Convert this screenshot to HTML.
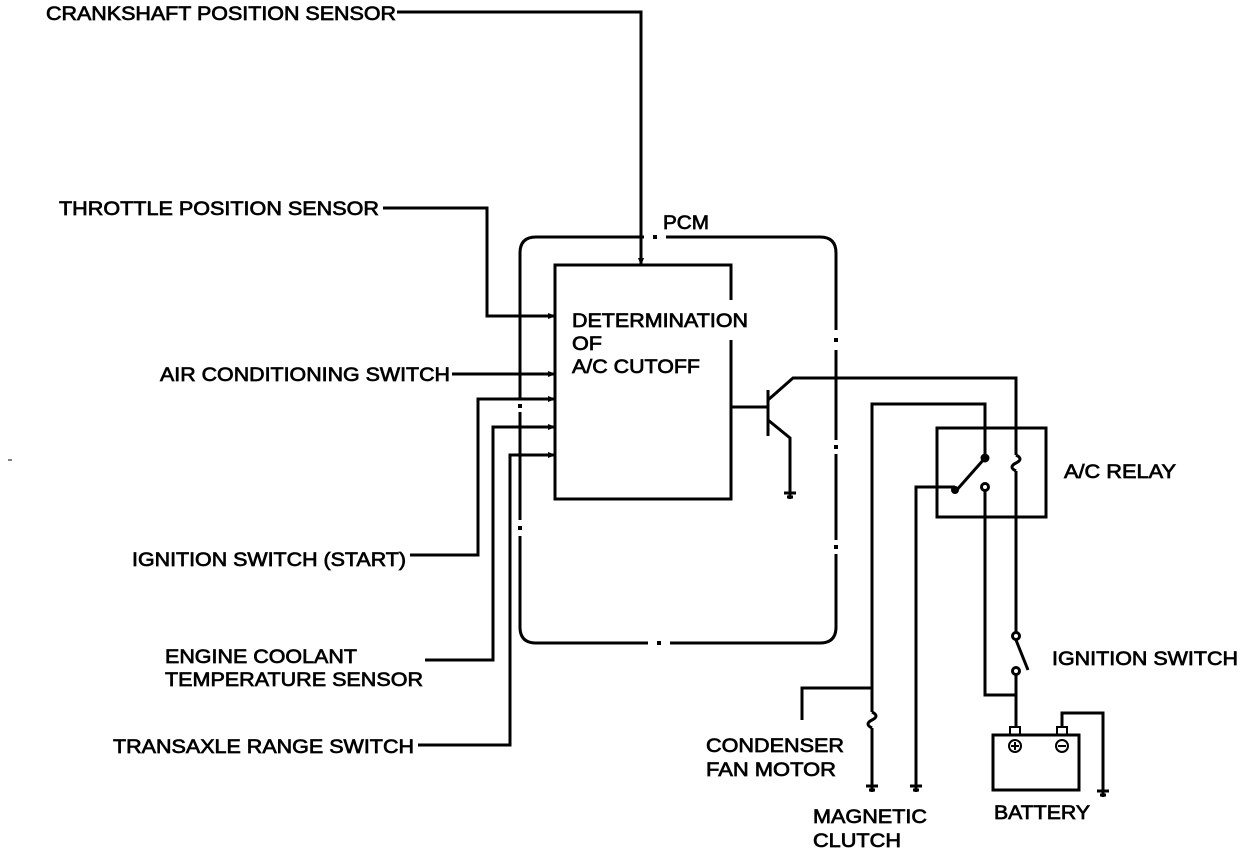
<!DOCTYPE html>
<html><head><style>body{margin:0;background:#fff}svg{display:block}text{font-family:"Liberation Sans",sans-serif;font-size:19px;fill:#000;stroke:#000;stroke-width:0.7}</style></head><body>
<svg width="1248" height="854" viewBox="0 0 1248 854" xmlns="http://www.w3.org/2000/svg">
<defs>
<marker id="a" markerWidth="8" markerHeight="8" refX="7" refY="4" orient="auto" markerUnits="userSpaceOnUse"><path d="M0,1 L8,4 L0,7z" fill="#000"/></marker>
<g id="g"><line x1="-6" y1="0" x2="6" y2="0"/><line x1="-3" y1="4" x2="3" y2="4"/><line x1="0" y1="0" x2="0" y2="6"/></g>
</defs>
<g fill="none" stroke="#000" stroke-width="3">
<!-- PCM outer -->
<path d="M536,237 H820 Q836,237 836,253 V627 Q836,643 820,643 H536 Q520,643 520,627 V253 Q520,237 536,237"/>
</g>
<!-- gaps -->
<g fill="#fff">
<rect x="644" y="233" width="22" height="8"/>
<rect x="832" y="330" width="8" height="20"/>
<rect x="832" y="440" width="8" height="14"/>
<rect x="832" y="540" width="8" height="14"/>
<rect x="516" y="520" width="8" height="16"/>
<rect x="516" y="400" width="8" height="12"/>
<rect x="648" y="639" width="22" height="8"/>
</g>
<g fill="#000">
<rect x="653" y="235" width="4" height="4"/>
<rect x="834" y="338" width="4" height="4"/>
<rect x="834" y="445" width="4" height="4"/>
<rect x="834" y="545" width="4" height="4"/>
<rect x="518" y="526" width="4" height="4"/>
<rect x="518" y="404" width="4" height="4"/>
<rect x="657" y="641" width="4" height="4"/>
</g>
<g fill="none" stroke="#000" stroke-width="3">
<!-- inner box -->
<path d="M731,300 V265 H555 V499 H731 V340"/>
<!-- inputs -->
<polyline points="397,12 641,12 641,265" marker-end="url(#a)"/>
<polyline points="383,208 487,208 487,316 555,316" marker-end="url(#a)"/>
<polyline points="452,374 555,374" marker-end="url(#a)"/>
<polyline points="410,555 478,555 478,399 555,399" marker-end="url(#a)"/>
<polyline points="425,660 493,660 493,427 555,427" marker-end="url(#a)"/>
<polyline points="418,745 510,745 510,455 555,455" marker-end="url(#a)"/>
<!-- transistor -->
<line x1="731" y1="407" x2="768" y2="407"/>
<line x1="768" y1="390" x2="768" y2="436"/>
<polyline points="768,400 793,378 1016,378 1016,455"/>
<polyline points="768,420 790,438 790,492"/>
<use href="#g" x="790" y="493"/>
<!-- relay box -->
<rect x="937" y="428" width="109" height="89"/>
<path d="M1016,455 q8,4 0,8 q-8,4 0,8" />
<polyline points="1016,471 1016,632"/>
<circle cx="1016" cy="636" r="3.5"/>
<line x1="1016" y1="640" x2="1028" y2="670"/>
<circle cx="1016" cy="671" r="3.5"/>
<polyline points="1016,675 1016,728"/>
<polyline points="985,456 985,404 872,404 872,712"/>
<circle cx="985" cy="458" r="3" fill="#000"/>
<line x1="985" y1="458" x2="955" y2="492"/>
<circle cx="955" cy="490" r="2.5" fill="#000"/>
<polyline points="955,487 916,487 916,785"/>
<circle cx="985" cy="487" r="3.5"/>
<polyline points="985,491 985,695 1016,695"/>
<path d="M872,712 q8,4 0,8 q-8,4 0,8"/>
<line x1="872" y1="728" x2="872" y2="785"/>
<polyline points="872,688 802,688 802,720"/>
<use href="#g" x="872" y="786"/>
<use href="#g" x="916" y="786"/>
<!-- battery -->
<rect x="993" y="735" width="86" height="55"/>
<rect x="1010" y="727" width="10" height="8" stroke-width="2"/>
<rect x="1057" y="727" width="10" height="8" stroke-width="2"/>
<circle cx="1015" cy="746" r="6" stroke-width="2"/>
<circle cx="1062" cy="746" r="6" stroke-width="2"/>
<line x1="1011" y1="746" x2="1019" y2="746" stroke-width="2"/><line x1="1015" y1="742" x2="1015" y2="750" stroke-width="2"/>
<line x1="1058" y1="746" x2="1066" y2="746" stroke-width="2"/>
<polyline points="1062,727 1062,713 1103,713 1103,790"/>
<use href="#g" x="1103" y="791"/>
<line x1="8" y1="460" x2="12" y2="460" stroke-width="1"/>
</g>
<text x="46" y="20" textLength="350" lengthAdjust="spacingAndGlyphs">CRANKSHAFT POSITION SENSOR</text>
<text x="59" y="215" textLength="320" lengthAdjust="spacingAndGlyphs">THROTTLE POSITION SENSOR</text>
<text x="160" y="381" textLength="290" lengthAdjust="spacingAndGlyphs">AIR CONDITIONING SWITCH</text>
<text x="132" y="566" textLength="274" lengthAdjust="spacingAndGlyphs">IGNITION SWITCH (START)</text>
<text x="165" y="663" textLength="192" lengthAdjust="spacingAndGlyphs">ENGINE COOLANT</text>
<text x="165" y="686" textLength="258" lengthAdjust="spacingAndGlyphs">TEMPERATURE SENSOR</text>
<text x="113" y="753" textLength="301" lengthAdjust="spacingAndGlyphs">TRANSAXLE RANGE SWITCH</text>
<text x="663" y="229" textLength="46" lengthAdjust="spacingAndGlyphs">PCM</text>
<text x="572" y="327" textLength="176" lengthAdjust="spacingAndGlyphs">DETERMINATION</text>
<text x="572" y="350" textLength="30" lengthAdjust="spacingAndGlyphs">OF</text>
<text x="572" y="373" textLength="128" lengthAdjust="spacingAndGlyphs">A/C CUTOFF</text>
<text x="1064" y="478" textLength="112" lengthAdjust="spacingAndGlyphs">A/C RELAY</text>
<text x="1052" y="665" textLength="186" lengthAdjust="spacingAndGlyphs">IGNITION SWITCH</text>
<text x="706" y="752" textLength="138" lengthAdjust="spacingAndGlyphs">CONDENSER</text>
<text x="706" y="776" textLength="130" lengthAdjust="spacingAndGlyphs">FAN MOTOR</text>
<text x="813" y="823" textLength="114" lengthAdjust="spacingAndGlyphs">MAGNETIC</text>
<text x="813" y="847" textLength="88" lengthAdjust="spacingAndGlyphs">CLUTCH</text>
<text x="994" y="819" textLength="96" lengthAdjust="spacingAndGlyphs">BATTERY</text>
</svg>
</body></html>
